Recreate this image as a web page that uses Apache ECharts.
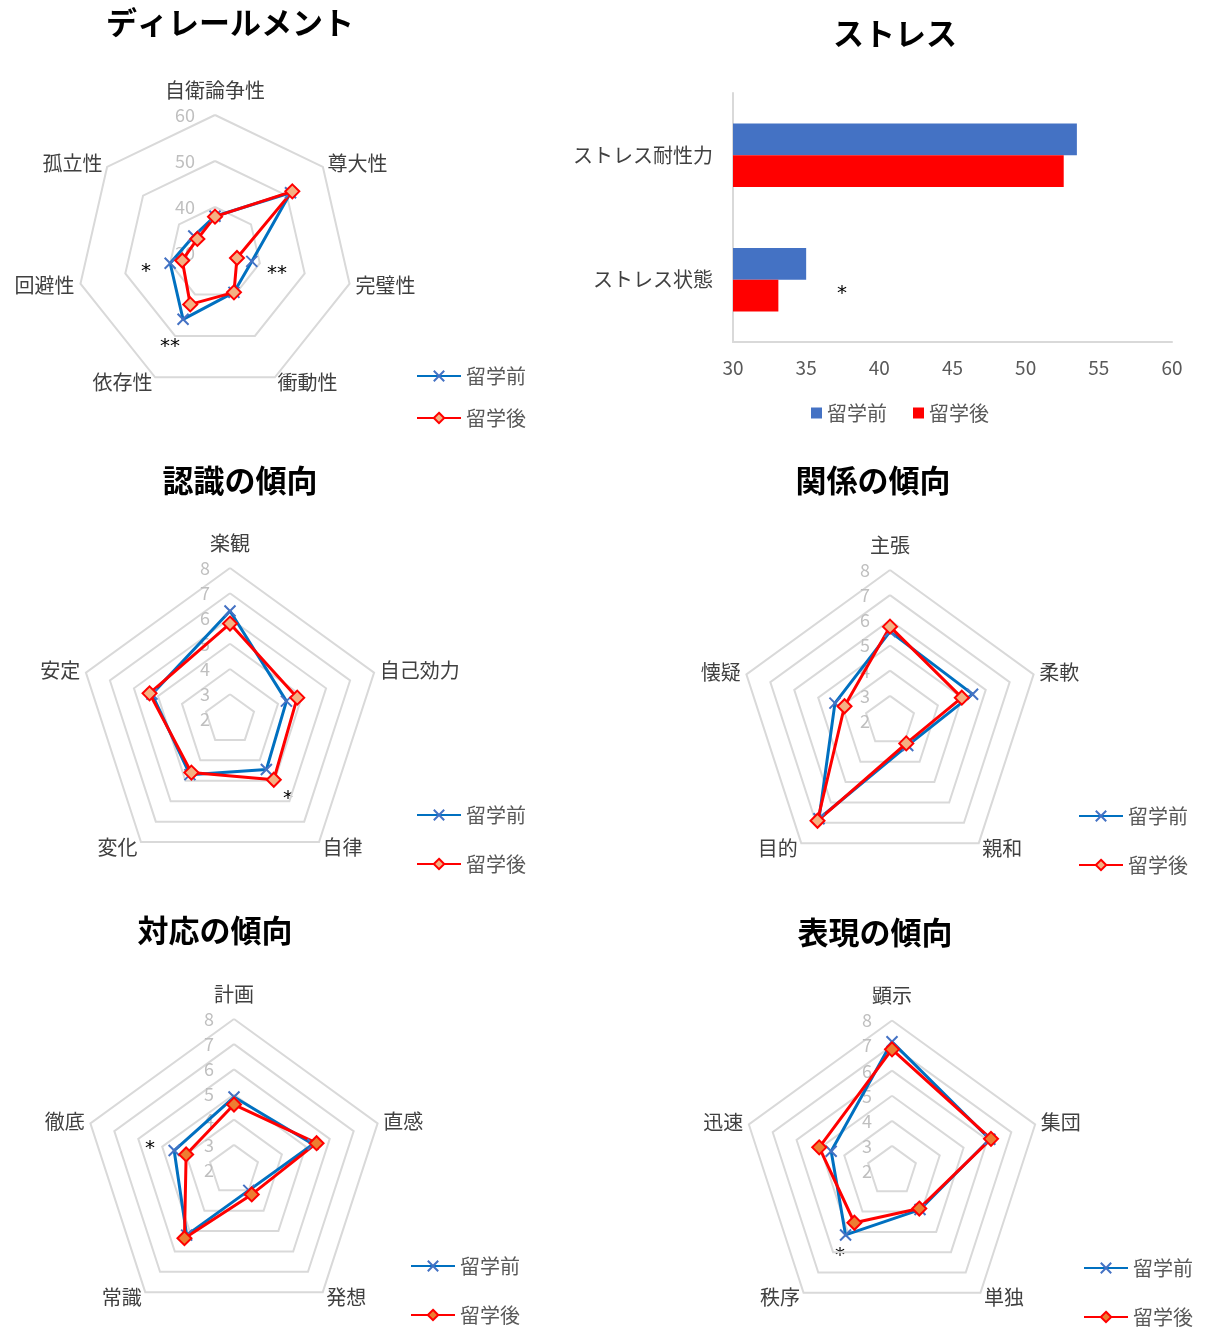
<!DOCTYPE html>
<html><head><meta charset="utf-8">
<script src="https://cdn.jsdelivr.net/npm/echarts@6/dist/echarts.min.js"></script>
<style>
html,body{margin:0;padding:0;background:#fff;width:1207px;height:1333px;overflow:hidden;position:relative;}
.c{position:absolute;}
</style></head><body>
<div id="c1" class="c" style="left:0;top:0;width:600px;height:445px"></div>
<div id="c2" class="c" style="left:450px;top:0;width:757px;height:445px"></div>
<div id="c3" class="c" style="left:0;top:445px;width:600px;height:450px"></div>
<div id="c4" class="c" style="left:600px;top:445px;width:607px;height:450px"></div>
<div id="c5" class="c" style="left:0;top:895px;width:600px;height:480px"></div>
<div id="c6" class="c" style="left:600px;top:895px;width:607px;height:480px"></div>
<script>
// ---------- data ----------
const seriesNames = ['留学前', '留学後'];

const derailCats = ['自衛論争性', '尊大性', '完璧性', '衝動性', '依存性', '回避性', '孤立性'];
const derailBefore = [38.0, 51.0, 38.2, 39.5, 46.0, 40.0, 35.9];
const derailAfter = [37.9, 51.5, 34.9, 39.5, 42.4, 37.3, 34.9];
const derailMin = 30, derailMax = 60, derailSplit = 3;

const stressCats = ['ストレス耐性力', 'ストレス状態'];
const stressBefore = [53.5, 35.0];
const stressAfter = [52.6, 33.1];
const stressMin = 30, stressMax = 60, stressStep = 5;

const cognCats = ['楽観', '自己効力', '自律', '変化', '安定'];
const cognBefore = [6.3, 4.35, 4.45, 4.7, 5.25];
const cognAfter = [5.8, 4.8, 4.95, 4.6, 5.35];

const relCats = ['主張', '柔軟', '親和', '目的', '懐疑'];
const relBefore = [5.55, 5.45, 3.2, 6.8, 4.3];
const relAfter = [5.75, 5.0, 3.1, 6.9, 3.9];

const respCats = ['計画', '直感', '発想', '常識', '徹底'];
const respBefore = [4.9, 5.3, 3.0, 5.2, 4.5];
const respAfter = [4.6, 5.45, 3.2, 5.35, 4.0];

const exprCats = ['顕示', '集団', '単独', '秩序', '迅速'];
const exprBefore = [7.15, 6.1, 3.9, 5.15, 4.55];
const exprAfter = [6.85, 6.15, 3.85, 4.55, 5.05];

const scaleMin = 2, scaleMax = 8, scaleSplit = 6;

// ---------- styles ----------
const FONT = '"Noto Sans CJK JP", "Noto Sans", sans-serif';
const BLUE_LINE = '#0070C0', BLUE_MARK = '#4472C4', RED = '#FF0000';
const X_PATH = 'path://M0,0L10,10M0,10L10,0';

// reference axes run clockwise; ECharts radar runs counter-clockwise
function ccw(a) { return [a[0]].concat(a.slice(1).reverse()); }

function titleText(x, y, text) {
  return { type: 'text', x: x, y: y, silent: true,
    style: { text: text, fill: '#000', font: 'bold 31px ' + FONT, align: 'center', verticalAlign: 'middle',
      textAlign: 'center', textVerticalAlign: 'middle' } };
}
function starText(x, y, text) {
  return { type: 'text', x: x, y: y, silent: true,
    style: { text: text, fill: '#000', font: '20px "DejaVu Sans", sans-serif', align: 'center', verticalAlign: 'middle',
      textAlign: 'center', textVerticalAlign: 'middle' } };
}

function radarChart(el, cfg) {
  const chart = echarts.init(document.getElementById(el), null, { renderer: 'canvas' });
  const cats = ccw(cfg.cats);
  const beforeStyle = {
    symbol: X_PATH, symbolSize: 11,
    lineStyle: { color: BLUE_LINE, width: 3 },
    itemStyle: { color: BLUE_MARK, borderColor: BLUE_MARK, borderWidth: 2 }
  };
  const afterStyle = {
    symbol: 'diamond', symbolSize: 14,
    lineStyle: { color: RED, width: 3 },
    itemStyle: { color: cfg.fill, borderColor: RED, borderWidth: 2 }
  };
  chart.setOption({
    animation: false,
    textStyle: { fontFamily: FONT },
    graphic: [titleText(cfg.title[1], cfg.title[2], cfg.title[0])].concat(
      cfg.stars.map(s => starText(s[0], s[1], s[2]))),
    legend: {
      data: seriesNames, orient: 'vertical', left: cfg.legend[0], top: cfg.legend[1],
      itemGap: cfg.legend[2], itemWidth: 44, itemHeight: 13, padding: 0,
      textStyle: { fontSize: 20, color: '#595959', fontFamily: FONT }
    },
    grid: { show: false, left: -50, top: -50, width: 10, height: 10 },
    xAxis: { show: false, type: 'value' },
    yAxis: { show: false, type: 'value' },
    radar: {
      center: cfg.center, radius: cfg.radius, startAngle: 90, shape: 'polygon',
      splitNumber: cfg.split,
      indicator: cats.map((n, i) => {
        const o = { name: n, min: cfg.min, max: cfg.max };
        if (i === 0) { o.axisLabel = { show: true }; o.nameGap = 15; }
        return o;
      }),
      nameGap: 6,
      axisName: { color: '#404040', fontSize: 20, fontFamily: FONT },
      axisLine: { show: false },
      axisTick: { show: false },
      axisLabel: { show: false, color: '#bfbfbf', fontSize: 18, margin: 20, fontFamily: FONT },
      splitLine: { lineStyle: { color: '#d9d9d9', width: 2 } },
      splitArea: { show: false }
    },
    series: [
      Object.assign({ type: 'line', name: seriesNames[0], data: [] }, beforeStyle),
      Object.assign({ type: 'line', name: seriesNames[1], data: [] }, afterStyle),
      {
        type: 'radar', name: 'radar',
        data: [
          Object.assign({ name: 'r0', value: ccw(cfg.before) }, beforeStyle),
          Object.assign({ name: 'r1', value: ccw(cfg.after) }, afterStyle)
        ]
      }
    ]
  });
}

radarChart('c1', {
  cats: derailCats, before: derailBefore, after: derailAfter,
  min: derailMin, max: derailMax, split: derailSplit,
  center: [215, 253], radius: 138, fill: '#F4B183',
  title: ['ディレールメント', 230, 22], legend: [416, 366, 22],
  stars: [[146, 272, '*'], [277, 274, '**'], [170, 347, '**']]
});
radarChart('c3', {
  cats: cognCats, before: cognBefore, after: cognAfter,
  min: scaleMin, max: scaleMax, split: scaleSplit,
  center: [230, 274.5], radius: 151.5, fill: '#F4B183',
  title: ['認識の傾向', 240, 35], legend: [416, 360, 29],
  stars: [[288, 354, '*']]
});
radarChart('c4', {
  cats: relCats, before: relBefore, after: relAfter,
  min: scaleMin, max: scaleMax, split: scaleSplit,
  center: [290, 276], radius: 151, fill: '#F4B183',
  title: ['関係の傾向', 273, 35], legend: [478, 361, 29],
  stars: []
});
radarChart('c5', {
  cats: respCats, before: respBefore, after: respAfter,
  min: scaleMin, max: scaleMax, split: scaleSplit,
  center: [234, 275], radius: 151, fill: '#ED7D31',
  title: ['対応の傾向', 215, 35], legend: [410, 361, 29],
  stars: [[150, 254, '*']]
});
radarChart('c6', {
  cats: exprCats, before: exprBefore, after: exprAfter,
  min: scaleMin, max: scaleMax, split: scaleSplit,
  center: [292, 276], radius: 150.5, fill: '#ED7D31',
  title: ['表現の傾向', 275, 37], legend: [483, 363, 29],
  stars: [[240, 361, '*']]
});

// ---------- bar chart ----------
(function () {
  const chart = echarts.init(document.getElementById('c2'));
  chart.setOption({
    animation: false,
    textStyle: { fontFamily: FONT },
    graphic: [titleText(445, 33, 'ストレス'), starText(392, 294, '*')],
    legend: {
      data: seriesNames, left: 361, top: 403, icon: 'rect', itemWidth: 11, itemHeight: 11, itemGap: 26, padding: 0,
      textStyle: { fontSize: 20, color: '#595959', fontFamily: FONT }
    },
    grid: { left: 283, right: 35, top: 93, bottom: 103, containLabel: false, outerBoundsMode: 'none' },
    xAxis: {
      type: 'value', min: stressMin, max: stressMax, interval: stressStep,
      axisLine: { show: true, lineStyle: { color: '#d9d9d9', width: 2 } },
      axisTick: { show: false }, splitLine: { show: false },
      axisLabel: { color: '#595959', fontSize: 19, margin: 16, fontFamily: FONT }
    },
    yAxis: {
      type: 'category', data: stressCats, inverse: true,
      axisLine: { show: true, lineStyle: { color: '#d9d9d9', width: 2 } },
      axisTick: { show: false },
      axisLabel: { color: '#404040', fontSize: 20, margin: 20, fontFamily: FONT }
    },
    series: [
      { type: 'bar', name: seriesNames[0], data: stressBefore, barGap: '0%', barCategoryGap: '49%',
        itemStyle: { color: '#4472C4' } },
      { type: 'bar', name: seriesNames[1], data: stressAfter, barGap: '0%', barCategoryGap: '49%',
        itemStyle: { color: '#FF0000' } }
    ]
  });
})();
</script>
</body></html>
